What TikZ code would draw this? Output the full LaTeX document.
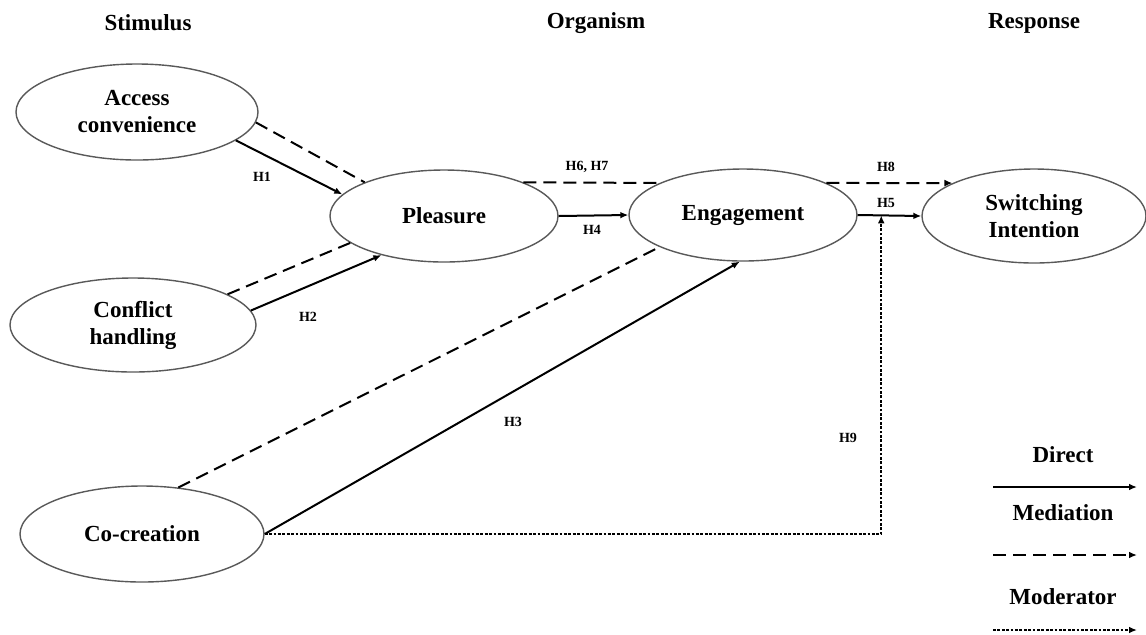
\documentclass[tikz,border=0pt]{standalone}
\usepackage{fontspec}
\setmainfont{Liberation Serif}
\usepackage{tikz}
\usetikzlibrary{shapes.geometric, arrows.meta}

\begin{document}
\begin{tikzpicture}[x=0.5pt, y=-0.5pt,
	construct/.style={ellipse, draw=black!65, line width=0.7pt, fill=white, inner sep=0pt, align=center, font=\bfseries\fontsize{11.5}{13.5}\selectfont},
	heading/.style={font=\bfseries\fontsize{11.5}{13.5}\selectfont},
	hyp/.style={font=\bfseries\fontsize{7}{8}\selectfont, inner sep=0pt},
	tip/.style={-{Latex[length=4pt,width=3.4pt]}},
	direct/.style={line width=1pt, tip},
	mediation/.style={line width=1pt, dash pattern=on 6.5pt off 3.5pt},
	moderator/.style={line width=1pt, dash pattern=on 1.4pt off 0.8pt, tip}]
			\useasboundingbox (0,0) rectangle (1146,634);
			% column headings
			\node[heading] (stim) at (148,23) {Stimulus};
			\node[heading] (org) at (596,23) {Organism};
			\node[heading] (resp) at (1034,23) {Response};
			% constructs
			\node[construct, minimum width=121pt, minimum height=48pt] (ac) at (137,112) {Access\\convenience};
			\node[construct, minimum width=123pt, minimum height=47pt] (ch) at (133,325) {Conflict\\handling};
			\node[construct, minimum width=122pt, minimum height=48pt] (cc) at (142,534) {Co-creation};
			\node[construct, minimum width=114pt, minimum height=46pt] (pl) at (444,216) {Pleasure};
			\node[construct, minimum width=114pt, minimum height=46pt] (en) at (743,215) {Engagement};
			\node[construct, minimum width=112pt, minimum height=47pt] (si) at (1034,216) {Switching\\Intention};
			% paths
			\draw[direct] (ac.-16) -- (pl.168);
			\draw[mediation] (ac.-5) -- (pl.157);
			\draw[direct] (ch.7) -- (pl.-148);
			\draw[mediation] (ch.18) -- (pl.196);
			\draw[direct] (pl.east) -- (en.west);
			\draw[direct] (cc.east) -- (en.-94);
			\draw[mediation] (cc.52) -- (en.201);
			\draw[direct] (en.east) -- (si.west);
			\draw[mediation] (pl.23) -- (en.159);
			\draw[mediation, tip] (en.21) -- (si.158);
			\path (en.east) -- (si.west) coordinate[pos=0.37] (h9tip);
			\draw[moderator] (cc.east) -| (h9tip);
			% hypotheses
			\node[hyp] (h1) at (262,177) {H1};
			\node[hyp] (h2) at (308,317) {H2};
			\node[hyp] (h3) at (513,422) {H3};
			\node[hyp] (h4) at (592,230) {H4};
			\node[hyp] (h5) at (886,203) {H5};
			\node[hyp] (h67) at (587,167) {H6, H7};
			\node[hyp] (h8) at (886,167) {H8};
			\node[hyp] (h9) at (848,438) {H9};
			% legend
			\node[heading] (ldir) at (1063,455) {Direct};
			\node[heading] (lmed) at (1063,513) {Mediation};
			\node[heading] (lmod) at (1063,597) {Moderator};
			\coordinate (dirA) at (993,487);
			\coordinate (dirB) at (1137,487);
			\coordinate (medA) at (993,555);
			\coordinate (medB) at (1137,555);
			\coordinate (modA) at (993,630);
			\coordinate (modB) at (1137,630);
			\draw[direct] (dirA) -- (dirB);
			\draw[mediation, tip] (medA) -- (medB);
			\draw[moderator] (modA) -- (modB);
\end{tikzpicture}
\end{document}
